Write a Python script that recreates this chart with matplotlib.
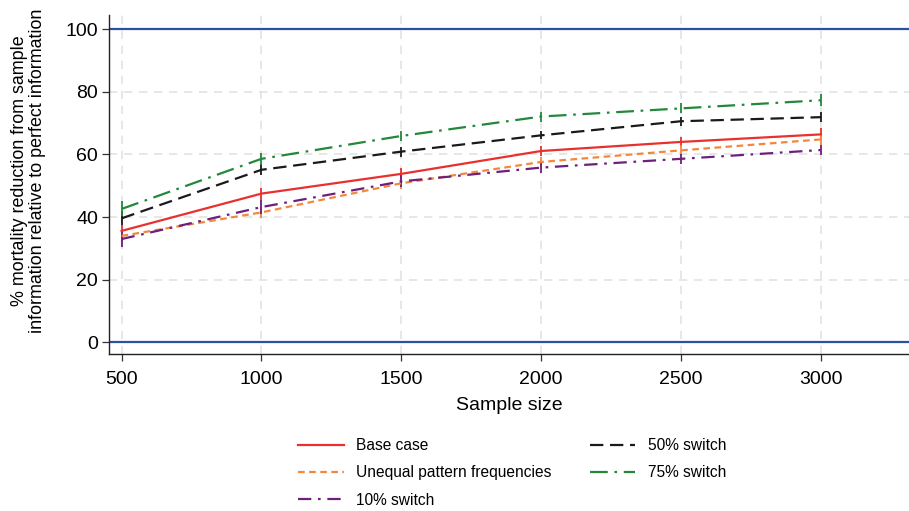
import numpy as np
import matplotlib
matplotlib.use("Agg")
import matplotlib.pyplot as plt

plt.rcParams['font.family'] = ['Liberation Sans', 'DejaVu Sans']

sample_size = [500, 1000, 1500, 2000, 2500, 3000]

base_case = [35.6, 47.5, 53.8, 61.1, 64.0, 66.4]
base_err = [2.0, 1.9, 1.8, 1.6, 1.7, 1.9]

unequal = [34.0, 41.5, 50.8, 57.6, 61.3, 64.8]
unequal_err = [1.8, 1.8, 1.7, 1.6, 1.6, 1.7]

switch10 = [33.0, 43.2, 51.4, 55.8, 58.6, 61.4]
switch10_err = [2.7, 2.2, 1.9, 1.7, 1.7, 1.7]

switch50 = [39.6, 55.1, 60.9, 66.1, 70.6, 71.9]
switch50_err = [2.2, 1.8, 1.6, 1.3, 1.4, 1.6]

switch75 = [42.6, 58.6, 65.9, 72.1, 74.7, 77.3]
switch75_err = [2.4, 1.9, 1.7, 1.6, 1.6, 1.9]

fig = plt.figure(figsize=(9.09, 5.11), dpi=100)
ax = fig.add_axes([0.1202, 0.3072, 0.8798, 0.6634])

series = [
    ("Base case", base_case, base_err, '#e8302f', '-'),
    ("Unequal pattern frequencies", unequal, unequal_err, '#f5873a', (0, (3, 2))),
    ("10% switch", switch10, switch10_err, '#6e1f7c', (0, (6, 3, 1.2, 3))),
    ("50% switch", switch50, switch50_err, '#1a1a1a', (0, (6, 3))),
    ("75% switch", switch75, switch75_err, '#23883a', (0, (8, 3, 1.2, 3))),
]

handles = []
for label, vals, err, col, ls in series:
    ax.errorbar(sample_size, vals, yerr=err, fmt='none', ecolor=col,
                elinewidth=1.3, capsize=0, zorder=3)
    h, = ax.plot(sample_size, vals, color=col, linestyle=ls, lw=1.6,
                 label=label, zorder=4)
    handles.append(h)

ax.axhline(0, color='#2b4fa6', lw=1.6, zorder=2)
ax.axhline(100, color='#2b4fa6', lw=1.6, zorder=2)

ax.set_xlim(456, 3315)
ax.set_ylim(-3.7, 104.5)
ax.set_xticks(sample_size)
ax.set_yticks([0, 20, 40, 60, 80, 100])
ax.grid(True, color='#e3e3e3', linestyle=(0, (5, 4)), lw=1.2, zorder=1)
ax.tick_params(labelsize=14, length=5, width=0.9, color='#333333')
ax.tick_params(axis='x', pad=7)
ax.tick_params(axis='y', pad=3)

for s in ['top', 'right']:
    ax.spines[s].set_visible(False)
for s in ['left', 'bottom']:
    ax.spines[s].set_color('#222222')
    ax.spines[s].set_linewidth(1.0)

ax.set_xlabel("Sample size", fontsize=14, labelpad=7)
ax.set_ylabel("% mortality reduction from sample\ninformation relative to perfect information",
              fontsize=12.9, linespacing=1.12)
ax.yaxis.set_label_coords(-0.079, 0.54)

fig.legend(handles=handles, labels=[h.get_label() for h in handles],
           loc='upper left', bbox_to_anchor=(0.3215, 0.155),
           ncol=2, frameon=False, fontsize=11.2, handlelength=2.9,
           handletextpad=0.8, columnspacing=2.5, labelspacing=0.8,
           borderaxespad=0)

fig.savefig("out.png", dpi=100)
